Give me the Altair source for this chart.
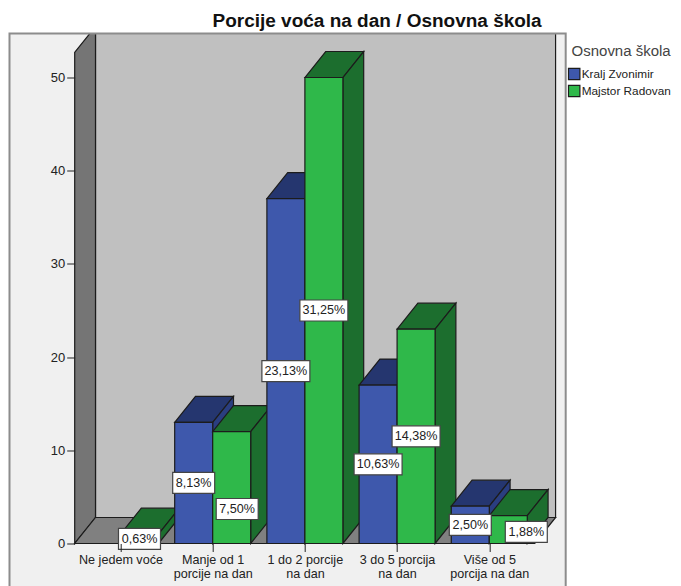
import altair as alt
import pandas as pd

categories = ["Ne jedem voće", "Manje od 1\nporcije na dan", "1 do 2 porcije\nna dan",
              "3 do 5 porcija\nna dan", "Više od 5\nporcija na dan"]
series_names = ["Kralj Zvonimir", "Majstor Radovan"]
kralj = [0, 13, 37, 17, 4]
majstor = [1, 12, 50, 23, 3]
kralj_pct = ["", "8,13%", "23,13%", "10,63%", "2,50%"]
majstor_pct = ["0,63%", "7,50%", "31,25%", "14,38%", "1,88%"]
title = "Porcije voća na dan / Osnovna škola"

FONT = "Liberation Sans"
PW, PH = 491, 510
PX_X, PX_Y = 92.2, 9.32          # pixels per category / per unit
X0 = -0.4967
X1 = X0 + PW / PX_X
Y1 = PH / PX_Y
DX, DY = 20.8 / PX_X, 26 / PX_Y  # oblique depth of the 3D view
BAR = 38 / PX_X
WALL_TOP = 52.7
BACK_R = 4.719

palette = {
    series_names[0]: "#3e58ac", series_names[1]: "#2fb84a",
    "blue top": "#25366f", "blue side": "#2a3e80",
    "green top": "#1c6e2e", "green side": "#1c6e2e",
    "wall": "#c0c0c0", "left": "#757575", "floor": "#808080",
}

rows = []
fid = 0
def add(key, pts):
    global fid
    fid += 1
    for x, y, y2 in pts:
        rows.append(dict(x=x, y=y, y2=y2, key=key, face=f"f{fid:03d}"))

def top(key, xl, xr, v):
    add(key, [(xl, v, v), (xl + DX, v + DY, v), (xr, v + DY, v), (xr + DX, v + DY, v + DY)])

# walls and floor
add("wall", [(X0 + DX, Y1, DY), (BACK_R, Y1, DY)])
frac = (Y1 - WALL_TOP) / DY
add("left", [(X0, WALL_TOP, 0), (X0 + frac * DX, Y1, frac * DY), (X0 + DX, Y1, DY)])
top("floor", X0, BACK_R - DX, 0)

# bars, drawn back to front from left to right
for i in range(len(categories)):
    for name, vals, t in ((series_names[0], kralj, "blue"), (series_names[1], majstor, "green")):
        v = vals[i]
        if v <= 0:
            continue
        xl = i - BAR if t == "blue" else i
        xr = xl + BAR
        top(f"{t} top", xl, xr, v)
        add(f"{t} side", [(xr, v, 0), (xr + DX, v + DY, DY)])
        add(name, [(xl, v, 0), (xr, v, 0)])
faces = pd.DataFrame(rows)

# value labels: centred on the bar, two moved aside like in the original
nudges = {"7,50%": (5.5 / PX_X, 3.7), "1,88%": (18 / PX_X, 1.25)}
lab = []
for i in range(len(categories)):
    for vals, pcts, off in ((kralj, kralj_pct, -BAR / 2), (majstor, majstor_pct, BAR / 2)):
        if not pcts[i]:
            continue
        dx, y = nudges.get(pcts[i], (0, vals[i] / 2))
        x = i + off + dx
        hw = (6 + 3.0 * len(pcts[i])) / PX_X
        hh = 10.5 / PX_Y
        lab.append(dict(x=x, x1=x - hw, x2=x + hw, y=y, y1=y - hh, y2=y + hh, t=pcts[i]))
labels = pd.DataFrame(lab)

xscale = alt.Scale(domain=[X0, X1], nice=False, zero=False)
yscale = alt.Scale(domain=[0, Y1], nice=False, zero=False)

cats_js = ",".join("'" + c.replace("\n", "|") + "'" for c in categories)
xaxis = alt.Axis(values=list(range(len(categories))), title=None, domain=False, grid=False,
                 tickColor="#222", tickSize=8, labelFont=FONT, labelFontSize=12.6, labelColor="#222",
                 labelPadding=2.5, labelOverlap=False, labelFlush=False, labelLineHeight=13.5,
                 labelExpr=f"split([{cats_js}][datum.value], '|')", zindex=1)
yaxis = alt.Axis(values=[0, 10, 20, 30, 40, 50], title=None, domain=False, grid=False,
                 tickColor="#222", tickSize=8, labelFont=FONT, labelFontSize=13, labelColor="#222",
                 labelPadding=2, zindex=1)

frame = pd.DataFrame([dict(x=X0 - 65.2 / PX_X, x2=X1, y=-5.5, y2=Y1)])
panel = alt.Chart(frame).mark_rect(fill="#f0f0f0").encode(
    x=alt.X("x:Q", scale=xscale, axis=xaxis), x2="x2:Q",
    y=alt.Y("y:Q", scale=yscale, axis=yaxis), y2="y2:Q")
border = alt.Chart(frame).mark_rect(fillOpacity=0, stroke="#8c8c8c", strokeWidth=2).encode(
    x=alt.X("x:Q", scale=xscale), x2="x2:Q", y=alt.Y("y:Q", scale=yscale), y2="y2:Q")

area = alt.Chart(faces).mark_area(orient="vertical", stroke="#1c1c1c", strokeWidth=1.2, opacity=1).encode(
    x=alt.X("x:Q", scale=xscale),
    y=alt.Y("y:Q", scale=yscale),
    y2="y2:Q",
    detail="face:N",
    fill=alt.Fill("key:N",
                  scale=alt.Scale(domain=list(palette), range=list(palette.values())),
                  legend=alt.Legend(values=series_names, title="Osnovna škola", orient="none",
                                    legendX=493, legendY=10, symbolType="square", symbolSize=130,
                                    symbolStrokeColor="#1c1c1c", symbolStrokeWidth=1.2,
                                    titleFont=FONT, titleFontSize=15, titleFontWeight="normal",
                                    titleColor="#444", titlePadding=9, titleAnchor="end",
                                    labelFont=FONT, labelFontSize=11.8, labelColor="#222",
                                    labelOffset=1, rowPadding=0)),
)
boxes = alt.Chart(labels).mark_rect(fill="white", stroke="#444", strokeWidth=1.2).encode(
    x=alt.X("x1:Q", scale=xscale), x2="x2:Q", y=alt.Y("y1:Q", scale=yscale), y2="y2:Q")
texts = alt.Chart(labels).mark_text(font=FONT, fontSize=12.6, color="#222", baseline="middle").encode(
    x=alt.X("x:Q", scale=xscale), y=alt.Y("y:Q", scale=yscale), text="t:N")

chart = alt.layer(panel, area, border, boxes, texts).properties(
    width=PW, height=PH,
    padding={"left": 66.7, "top": 25.5, "right": 107, "bottom": 42},
    autosize=alt.AutoSizeParams(type="none"),
    title=alt.TitleParams(title, anchor="start", align="left", dx=204, offset=0, font=FONT, fontSize=19,
                          fontWeight="bold", color="#111"),
).configure_view(stroke=None)

chart.save("out.html", embed_options={"renderer": "svg", "actions": False})
